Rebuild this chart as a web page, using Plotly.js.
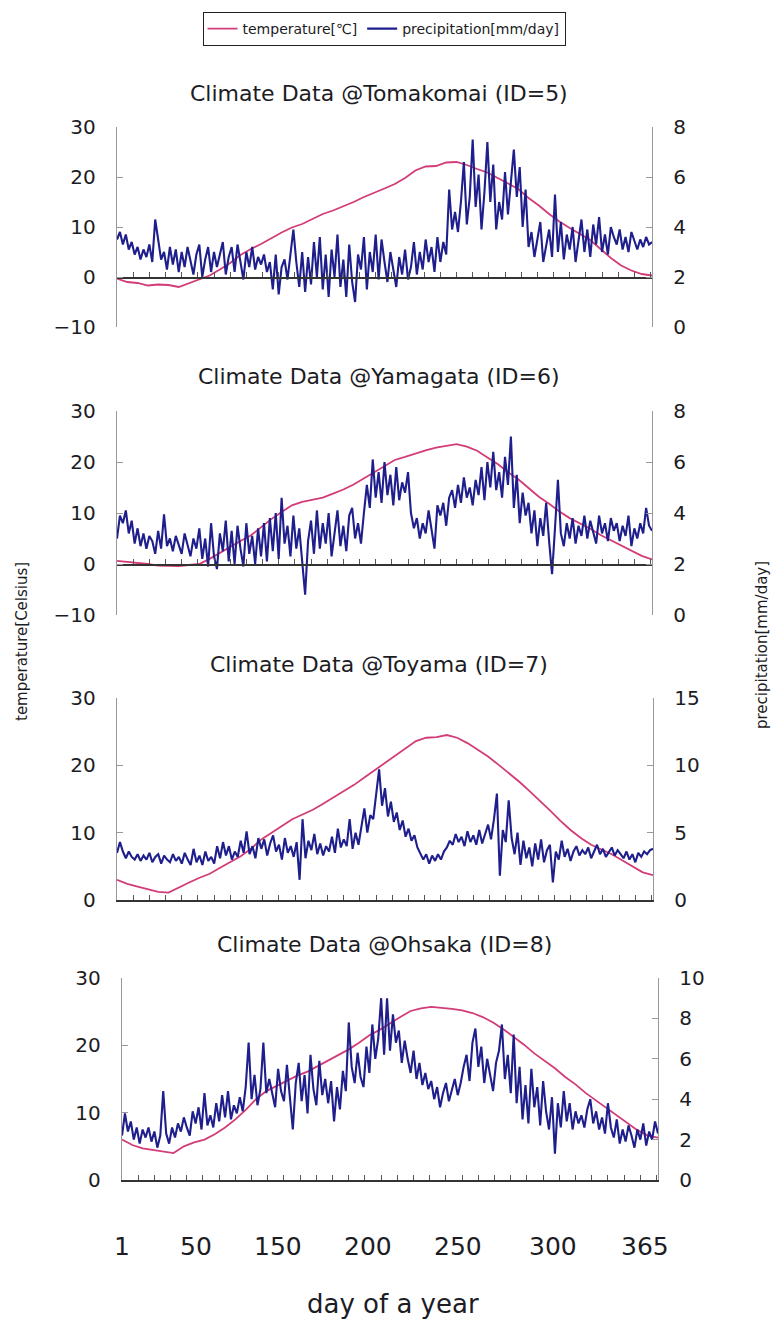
<!DOCTYPE html>
<html>
<head>
<meta charset="utf-8">
<script src="https://cdn.plot.ly/plotly-3.0.1.min.js"></script>
<style>html,body{margin:0;padding:0;background:#fff;}#chart{width:773px;height:1321px;}</style>
</head>
<body>
<div id="chart"></div>
<script>
// ---------------- DATA ----------------
const stations = ['Tomakomai', 'Yamagata', 'Toyama', 'Ohsaka'];
const stationIds = [5, 6, 7, 8];

// temperature [°C], sampled weekly
const tempDays = [1,8,15,22,29,36,43,50,57,64,71,78,85,92,99,106,113,120,127,134,141,148,155,162,169,176,183,190,197,204,211,218,225,232,239,246,253,260,267,274,281,288,295,302,309,316,323,330,337,344,351,358,365];

const tempTomakomai = [-0.3,-1.0,-1.2,-1.7,-1.5,-1.6,-2.0,-1.2,-0.5,0.3,1.5,2.8,4.4,5.6,6.6,7.8,8.9,9.9,10.6,11.6,12.6,13.3,14.1,15.0,16.0,16.8,17.7,18.6,19.8,21.3,22.1,22.2,22.9,23.0,22.4,21.6,20.9,19.8,18.7,17.6,15.8,14.3,12.6,11.1,9.8,8.6,7.4,5.6,3.8,2.3,1.3,0.6,0.3];
const tempYamagata = [0.6,0.4,0.3,0.0,-0.3,-0.3,-0.4,-0.2,0.0,1.0,2.2,3.4,4.5,5.6,7.2,8.8,10.2,11.5,12.2,12.6,13.0,13.8,14.6,15.6,16.8,18.0,19.2,20.4,21.0,21.7,22.3,22.8,23.2,23.5,23.0,22.2,20.9,19.6,18.0,16.6,14.9,13.2,11.8,10.3,9.0,8.0,6.9,5.7,4.7,3.7,2.7,1.6,0.9];
const tempToyama = [3.0,2.4,2.0,1.6,1.2,1.1,1.9,2.6,3.3,3.9,4.8,5.6,6.5,7.6,9.0,10.0,11.0,12.0,12.7,13.4,14.3,15.2,16.1,17.1,18.2,19.3,20.3,21.4,22.6,23.6,24.1,24.2,24.5,24.1,23.3,22.3,21.3,20.1,18.9,17.6,16.2,14.8,13.3,11.8,10.4,9.2,8.2,7.5,6.8,5.9,5.0,4.1,3.7];
const tempOhsaka = [6.0,5.2,4.7,4.5,4.2,4.0,5.0,5.6,6.0,6.8,7.8,9.0,10.4,12.0,13.2,14.0,14.8,15.5,16.1,16.9,17.8,18.6,19.4,20.4,21.5,22.3,23.3,24.2,25.1,25.5,25.7,25.6,25.4,25.2,24.8,24.2,23.4,22.4,21.3,20.1,18.8,17.7,16.6,15.3,14.2,12.9,11.8,10.6,9.6,8.4,7.4,6.6,6.3];

// precipitation [mm/day], every second day (1,3,5,...,365)
const precipDays = Array.from({length: 183}, (_, i) => 1 + 2 * i);

const precipTomakomai = [
3.5,3.8,3.3,3.7,3.1,3.4,2.9,3.2,2.7,3.1,
2.8,3.3,2.6,4.3,3.5,2.7,3.0,2.3,3.2,2.5,
3.1,2.2,3.0,2.4,3.2,2.6,2.1,2.9,3.3,2.0,
2.7,3.2,2.2,3.0,2.4,2.9,3.4,2.1,2.8,3.2,
2.2,3.3,2.6,1.9,3.0,2.4,3.2,2.3,2.8,2.5,
2.9,2.2,2.6,1.5,2.9,1.3,2.4,2.7,1.9,3.0,
3.9,2.6,1.6,3.0,1.4,2.8,1.7,3.4,2.0,3.6,
1.5,2.9,1.2,3.1,2.0,3.7,1.6,2.7,1.2,3.3,
1.8,1.0,2.9,2.3,3.6,1.5,3.0,2.2,3.7,1.9,
3.5,2.6,1.8,3.0,2.3,1.6,2.8,2.1,3.1,1.9,
2.4,3.4,2.1,3.0,2.3,3.5,2.6,3.2,2.2,3.6,
2.6,3.4,2.9,5.5,3.9,4.6,3.8,5.0,6.6,4.1,
5.2,7.5,4.8,6.1,3.9,5.4,7.4,5.0,6.5,3.9,
5.0,4.3,6.2,4.5,5.8,7.1,5.2,6.4,4.0,5.5,
3.2,3.8,2.8,3.5,4.2,2.6,3.3,3.9,2.8,5.3,
3.0,4.2,2.7,3.7,3.1,4.0,2.6,3.5,4.3,3.0,
3.9,2.8,4.1,3.3,4.4,3.0,3.7,2.9,4.0,3.6,
3.3,3.9,3.1,3.6,3.0,3.8,3.4,3.1,3.5,3.2,
3.6,3.3,3.4];

const precipYamagata = [
3.0,3.9,3.6,4.1,3.2,3.7,2.8,3.4,2.7,3.2,
2.6,3.1,2.9,2.4,3.3,2.6,3.95,2.7,3.0,2.5,
3.1,2.7,2.4,3.2,2.8,2.3,3.0,2.6,3.4,2.2,
3.0,1.9,3.6,2.3,1.8,3.2,2.5,3.7,2.1,3.3,
2.0,3.5,2.6,1.9,3.6,2.4,3.1,2.0,3.4,2.3,
3.6,2.1,3.8,2.5,4.0,2.2,4.6,2.8,3.5,2.3,
3.9,2.6,3.4,2.0,0.8,2.9,3.7,2.4,4.1,2.6,
3.6,2.8,4.0,2.3,3.3,4.1,2.7,3.5,2.5,3.9,
4.2,3.0,3.6,2.8,4.0,5.1,4.2,6.1,4.6,5.6,
4.4,6.0,4.7,5.5,4.3,5.8,4.5,5.2,4.8,5.6,
4.0,3.4,3.8,3.0,3.6,3.2,4.1,3.3,2.6,4.3,
3.9,4.4,3.5,4.6,4.9,4.2,5.1,4.4,5.4,4.6,
5.0,4.3,5.3,4.7,5.8,4.5,6.0,5.0,6.4,4.9,
5.6,4.6,6.2,5.1,7.0,4.2,5.5,3.6,4.8,3.9,
4.4,3.2,4.1,2.7,3.8,3.1,4.4,2.9,1.6,3.4,
5.3,3.2,2.7,3.6,3.0,3.8,2.8,3.5,3.1,3.9,
3.0,3.7,3.3,2.8,3.9,3.2,3.6,2.9,3.8,3.3,
3.6,2.9,3.5,3.1,3.9,2.7,3.4,3.0,3.6,3.2,
4.2,3.5,3.3];

const precipToyama = [
3.5,4.3,3.6,3.1,3.6,3.2,3.0,3.4,2.9,3.3,
3.0,3.5,2.8,3.2,3.4,2.7,3.3,3.0,2.8,3.4,
2.9,3.2,2.7,3.5,3.0,2.6,3.8,2.8,3.3,2.6,
3.6,2.9,3.2,2.7,4.0,3.1,4.3,3.3,4.0,3.0,
3.6,3.2,4.4,3.5,5.1,3.4,4.0,3.1,4.6,3.8,
4.5,3.3,4.2,4.8,3.6,4.1,3.0,4.6,3.5,4.0,
3.2,4.3,1.5,6.0,3.1,4.4,3.7,4.9,3.4,4.2,
3.3,4.0,3.6,4.7,3.5,5.3,3.9,4.5,4.0,6.0,
3.8,5.0,4.1,5.6,6.8,5.0,6.3,6.0,7.9,9.7,
7.0,8.3,6.2,7.3,5.8,6.5,5.2,5.9,4.7,5.3,
4.4,4.8,3.9,3.5,3.0,3.4,2.7,3.3,2.9,3.4,
3.0,3.6,3.9,4.4,4.1,4.9,4.3,4.7,4.0,5.1,
4.3,4.8,4.1,5.2,4.2,4.9,5.6,4.5,6.0,7.9,
1.8,5.2,4.3,7.4,4.6,3.4,5.0,2.6,4.4,3.1,
3.9,2.5,4.2,3.0,4.5,2.8,3.7,4.1,1.3,3.6,
3.0,4.4,3.2,3.8,2.9,3.6,4.0,3.3,3.7,3.4,
3.9,3.1,3.6,4.1,3.4,3.8,3.2,3.6,3.9,3.3,
3.7,3.4,3.1,3.6,3.0,3.4,2.8,3.5,3.2,3.6,
3.4,3.7,3.8];

const precipOhsaka = [
2.2,3.3,2.4,2.9,2.0,2.6,1.8,2.5,2.1,2.6,
1.9,2.4,1.6,2.2,4.4,2.3,1.8,2.6,2.1,2.8,
2.4,3.1,2.6,2.2,3.4,2.8,3.6,2.5,4.3,2.7,
3.2,2.6,3.8,2.9,4.2,3.1,4.4,3.0,3.7,3.3,
4.1,3.4,4.6,6.8,4.0,5.2,3.7,4.5,6.8,4.3,
5.0,4.2,3.6,5.5,4.4,3.9,5.7,4.1,2.5,4.8,
5.8,3.9,5.2,3.3,6.2,4.5,3.7,5.9,4.2,5.0,
3.8,4.9,2.9,4.6,3.5,5.4,4.4,7.8,5.6,4.8,
6.3,5.1,4.6,6.6,5.3,7.7,6.0,7.0,9.0,6.2,
9.0,6.4,8.2,6.8,7.4,5.8,6.9,6.0,5.3,6.4,
5.0,5.8,4.7,5.3,4.5,4.9,4.0,4.6,3.6,4.3,
4.8,3.9,4.4,5.0,4.2,4.8,5.6,6.2,4.9,6.8,
7.5,5.6,6.6,4.8,6.0,5.2,4.4,5.8,6.4,7.7,
5.0,6.2,4.3,7.2,3.8,5.6,3.0,4.7,2.8,5.5,
3.6,4.6,2.7,4.9,3.4,2.5,4.1,1.3,3.8,2.6,
4.4,2.9,3.8,2.5,3.4,2.8,3.2,2.6,3.5,4.0,
2.8,3.4,2.5,3.1,2.3,3.8,2.6,2.1,3.0,1.8,
2.5,1.9,2.7,2.2,1.6,2.5,2.0,2.8,1.7,2.4,
2.0,2.9,2.3];

const tempSeries = [tempTomakomai, tempYamagata, tempToyama, tempOhsaka];
const precipSeries = [precipTomakomai, precipYamagata, precipToyama, precipOhsaka];

const tempRanges = [[-10, 30], [-10, 30], [0, 30], [0, 30]];
const precipRanges = [[0, 8], [0, 8], [0, 15], [0, 10]];
const precipSteps = [2, 2, 5, 2];

const xTickLabels = ['1', '50', '150', '200', '250', '300', '365'];
const xTickAt = [1, 51, 107, 168, 229, 294, 356];

// ---------------- LAYOUT ----------------
const W = 773, H = 1321;
const fx = px => px / W;
const fy = py => 1 - py / H;

// pixel boxes of the four plot areas [left, right, top, bottom]
const boxes = [
  [117, 652, 127, 327],
  [117, 652, 411, 615],
  [117, 653, 698, 900],
  [122, 658, 978, 1180]
];

const TEMP_COLOR = '#d23c78';
const PREC_COLOR = '#1e1e8c';
const FONT = 'DejaVu Sans, Liberation Sans, Arial, sans-serif';
const TXT = '#1c1c24';

const traces = [];
const layout = {
  width: W, height: H,
  margin: {l: 0, r: 0, t: 0, b: 0},
  paper_bgcolor: '#ffffff',
  plot_bgcolor: 'rgba(0,0,0,0)',
  showlegend: true,
  legend: {
    orientation: 'h', x: fx(384), xanchor: 'center', y: fy(29), yanchor: 'middle',
    bordercolor: '#222', borderwidth: 1, bgcolor: '#fff',
    font: {family: FONT, size: 14, color: TXT},
    itemwidth: 30, tracegroupgap: 0
  },
  annotations: []
};

for (let i = 0; i < 4; i++) {
  const [l, r, t, b] = boxes[i];
  const xa = 'xaxis' + (i + 1), xr = 'x' + (i + 1);
  const ya = 'yaxis' + (2 * i + 1), yr = 'y' + (2 * i + 1);
  const ya2 = 'yaxis' + (2 * i + 2), yr2 = 'y' + (2 * i + 2);
  const tR = tempRanges[i];
  const xDomain = [fx(l), fx(r)];
  const yDomain = [fy(b), fy(t)];

  traces.push({
    x: tempDays, y: tempSeries[i], xaxis: xr, yaxis: yr, type: 'scatter', mode: 'lines',
    name: 'temperature[℃]', line: {color: TEMP_COLOR, width: 1.8},
    showlegend: i === 0, legendgroup: 't'
  });
  traces.push({
    x: precipDays, y: precipSeries[i], xaxis: xr, yaxis: yr2, type: 'scatter', mode: 'lines',
    name: 'precipitation[mm/day]', line: {color: PREC_COLOR, width: 2.1},
    showlegend: i === 0, legendgroup: 'p'
  });

  // x axis sits at temperature 0
  const zeroFrac = (0 - tR[0]) / (tR[1] - tR[0]);
  const xPos = yDomain[0] + zeroFrac * (yDomain[1] - yDomain[0]);
  layout[xa] = {
    domain: xDomain, range: [1, 365], anchor: zeroFrac === 0 ? yr : 'free',
    position: xPos,
    showline: true, linecolor: '#333', linewidth: 1.5,
    ticks: 'inside', tickmode: 'linear', tick0: 1, dtick: 11, ticklen: 5, tickcolor: '#555', tickwidth: 1,
    showticklabels: false, showgrid: false, zeroline: false, fixedrange: true
  };
  layout[ya] = {
    domain: yDomain, range: tR, anchor: xr, side: 'left',
    tickmode: 'linear', tick0: tR[0], dtick: 10,
    showline: true, linecolor: '#999', linewidth: 1.2,
    ticks: 'inside', ticklen: 6, tickcolor: '#999',
    ticklabelstandoff: 16,
    tickfont: {family: FONT, size: 20, color: TXT},
    showgrid: false, zeroline: false, fixedrange: true
  };
  layout[ya2] = {
    range: precipRanges[i], overlaying: yr, anchor: xr, side: 'right',
    tickmode: 'linear', tick0: 0, dtick: precipSteps[i],
    showline: true, linecolor: '#999', linewidth: 1.2,
    ticks: 'inside', ticklen: 6, tickcolor: '#999',
    ticklabelstandoff: 16,
    tickfont: {family: FONT, size: 20, color: TXT},
    showgrid: false, zeroline: false, fixedrange: true
  };

  layout.annotations.push({
    text: 'Climate Data @' + stations[i] + ' (ID=' + stationIds[i] + ')',
    xref: 'paper', yref: 'paper', x: fx((l + r) / 2 - 6), y: fy(t - 34),
    xanchor: 'center', yanchor: 'middle', showarrow: false,
    font: {family: FONT, size: 22, color: TXT}
  });
}

// bottom day labels
xTickLabels.forEach((lab, k) => {
  layout.annotations.push({
    text: lab, xref: 'x4', yref: 'paper', x: xTickAt[k], y: fy(1246),
    xanchor: 'center', yanchor: 'middle', showarrow: false,
    font: {family: FONT, size: 25, color: TXT}
  });
});
layout.annotations.push({
  text: 'day of a year', xref: 'paper', yref: 'paper', x: fx(393), y: fy(1304),
  xanchor: 'center', yanchor: 'middle', showarrow: false,
  font: {family: FONT, size: 26, color: TXT}
});
layout.annotations.push({
  text: 'temperature[Celsius]', xref: 'paper', yref: 'paper', x: fx(22), y: fy(642),
  xanchor: 'center', yanchor: 'middle', textangle: -90, showarrow: false,
  font: {family: FONT, size: 15, color: TXT}
});
layout.annotations.push({
  text: 'precipitation[mm/day]', xref: 'paper', yref: 'paper', x: fx(762), y: fy(645),
  xanchor: 'center', yanchor: 'middle', textangle: -90, showarrow: false,
  font: {family: FONT, size: 15, color: TXT}
});

Plotly.newPlot('chart', traces, layout, {displayModeBar: false, staticPlot: true});
</script>
</body>
</html>
